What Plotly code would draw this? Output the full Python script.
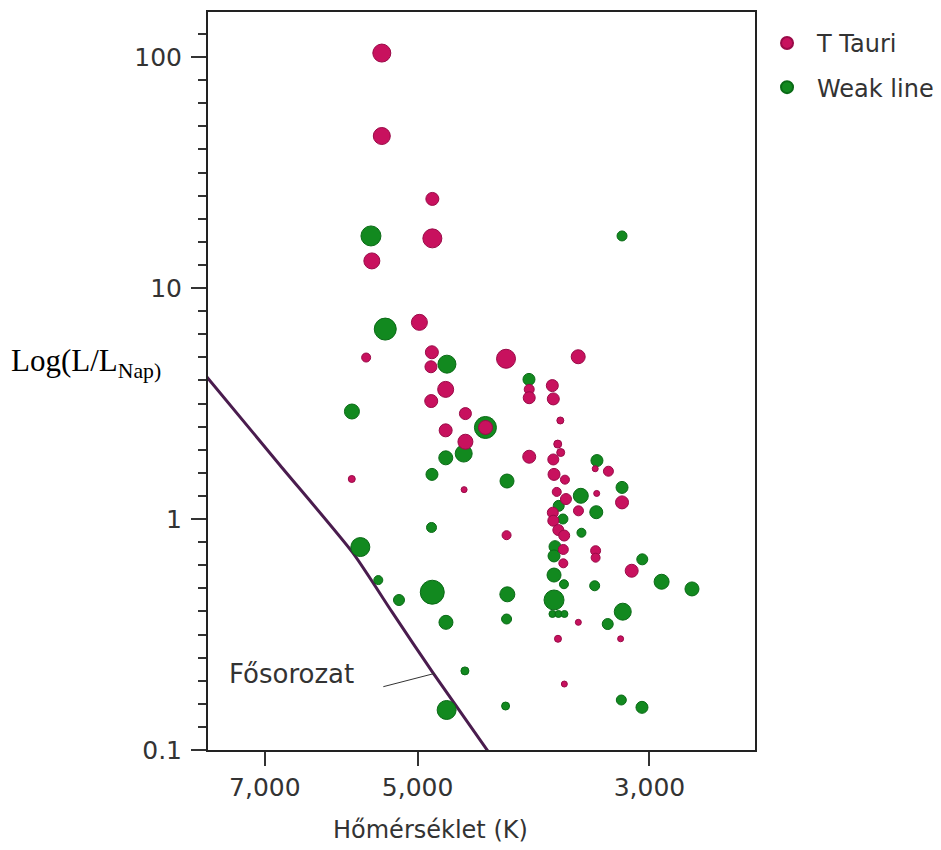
import plotly.graph_objects as go

# T Tauri stars: effective temperature (K), luminosity (L/Lsun), marker size
tt_temp = [5410, 5410, 4840, 4840, 5530, 4980, 5600, 4845, 4855, 4115,
           3510, 3910, 3910, 3716, 3708, 4700, 4852, 4500, 3651, 4305,
           4700, 4500, 3672, 3648, 3910, 3708, 3381, 3284, 3702, 3614,
           4513, 3680, 3370, 3606, 3187, 3508, 3712, 3708, 3667, 3620,
           4110, 3627, 3627, 3378, 3378, 3120, 3509, 3670, 3197, 3619,
           5780]
tt_lum = [104, 45.5, 24.3, 16.4, 13.1, 7.10, 5.0, 5.27, 4.56, 4.94,
          5.04, 3.64, 3.35, 3.78, 3.31, 3.64, 3.24, 2.86, 2.67, 2.49,
          2.42, 2.16, 2.11, 1.94, 1.86, 1.81, 1.65, 1.61, 1.56, 1.48,
          1.34, 1.31, 1.29, 1.22, 1.18, 1.085, 1.065, 0.983, 0.896, 0.848,
          0.851, 0.738, 0.643, 0.729, 0.680, 0.597, 0.357, 0.303, 0.303, 0.193,
          1.49]
tt_size = [18, 17, 13, 19, 16, 16, 9, 13, 12, 19,
           14, 10, 12, 12, 12, 16, 13, 12, 7, 14,
           13, 15, 8, 8, 13, 11, 6, 10, 12, 9,
           6, 9, 6, 11, 13, 10, 11, 11, 11, 11,
           9, 10, 9, 10, 9, 13, 6, 7, 6, 6,
           7]

# Weak-line T Tauri stars
wl_temp = [5541, 3187, 5369, 4687, 3912, 5778, 4306, 4517, 4699, 3368,
           4844, 4106, 3187, 3490, 3664, 3373, 3630, 4849, 3485, 3694,
           3702, 5672, 3048, 3702, 2921, 5452, 3622, 3385, 2732, 4841,
           4103, 5209, 3702, 3182, 3715, 3666, 3618, 4110, 4697, 3289,
           4505, 3192, 4119, 3050, 4690]
wl_lum = [16.8, 16.8, 6.64, 4.68, 4.02, 2.92, 2.49, 1.92, 1.84, 1.79,
          1.56, 1.46, 1.37, 1.26, 1.14, 1.07, 1.00, 0.919, 0.872, 0.759,
          0.692, 0.756, 0.669, 0.572, 0.535, 0.544, 0.522, 0.514, 0.498, 0.482,
          0.472, 0.446, 0.446, 0.397, 0.388, 0.388, 0.388, 0.369, 0.357, 0.351,
          0.220, 0.1646, 0.155, 0.153, 0.149]
wl_size = [20, 10, 22, 18, 12, 15, 22, 17, 14, 12,
           12, 14, 12, 15, 11, 13, 10, 10, 9, 12,
           12, 19, 11, 14, 15, 9, 9, 10, 14, 24,
           15, 11, 20, 17, 7, 7, 7, 10, 14, 11,
           8, 10, 8, 12, 19]

# Main sequence curve
ms_temp = [8000, 6770, 5766, 5290, 4831, 4244]
ms_lum = [4.25, 1.71, 0.713, 0.396, 0.215, 0.0933]

x_ticks = [7000, 5000, 3000]
x_ticktext = ["7,000", "5,000", "3,000"]
y_ticks = [0.1, 1, 10, 100]
y_ticktext = ["0.1", "1", "10", "100"]

SANS = "DejaVu Sans"
TXT = "#333333"

fig = go.Figure()

fig.add_trace(go.Scatter(
    x=ms_temp, y=ms_lum, mode="lines",
    line=dict(color="#4a1c4e", width=3, shape="spline", smoothing=0.6),
    showlegend=False, hoverinfo="skip"))

fig.add_trace(go.Scatter(
    x=wl_temp, y=wl_lum, mode="markers", name="Weak line",
    legendrank=2, legendgroup="b",
    marker=dict(size=wl_size, color="#12891f", opacity=1,
                line=dict(color="#0a6a16", width=1))))

fig.add_trace(go.Scatter(
    x=tt_temp, y=tt_lum, mode="markers", name="T Tauri",
    legendrank=1, legendgroup="a",
    marker=dict(size=tt_size, color="#c8115e", opacity=1,
                line=dict(color="#9a0a48", width=1))))

fig.update_layout(
    width=933, height=842, autosize=False,
    margin=dict(l=200, r=186, t=4, b=100, autoexpand=False),
    paper_bgcolor="white", plot_bgcolor="white",
    font=dict(family=SANS, color=TXT),
    legend=dict(x=1.0037, y=0.988, xanchor="left", yanchor="top",
                font=dict(size=24, family=SANS, color=TXT),
                itemsizing="constant", tracegroupgap=10, itemwidth=50,
                bgcolor="rgba(0,0,0,0)"),
    xaxis=dict(type="log", range=[3.89947, 3.37618],
               tickmode="array", tickvals=x_ticks, ticktext=x_ticktext,
               ticks="outside", ticklen=14, tickwidth=2, tickcolor="#333",
               tickfont=dict(size=25, family=SANS, color=TXT),
               showline=True, linecolor="#222", linewidth=2, mirror=True,
               showgrid=False, zeroline=False),
    yaxis=dict(type="log", range=[-1, 2.1948],
               tickmode="array", tickvals=y_ticks, ticktext=y_ticktext,
               ticks="outside", ticklen=15, tickwidth=2, tickcolor="#333",
               tickfont=dict(size=25, family=SANS, color=TXT),
               ticklabelstandoff=4,
               minor=dict(tickmode="linear", tick0=0, dtick=0.1,
                          ticks="outside", ticklen=8, tickwidth=2,
                          tickcolor="#333", showgrid=False),
               showline=True, linecolor="#222", linewidth=2, mirror=True,
               showgrid=False, zeroline=False),
)

fig.add_annotation(text="Log(L/L<sub>Nap)</sub>", xref="paper", yref="paper",
                   x=-0.3637, y=0.5244, xanchor="left", yanchor="middle",
                   showarrow=False,
                   font=dict(family="Liberation Serif", size=31, color="black"))
fig.add_annotation(text="Hőmérséklet (K)", xref="paper", yref="paper",
                   x=0.406, y=-0.1084, xanchor="center", yanchor="middle",
                   showarrow=False, font=dict(family=SANS, size=24, color=TXT))
fig.add_annotation(text="Fősorozat", xref="paper", yref="paper",
                   x=0.0347, y=0.103, xanchor="left", yanchor="middle",
                   showarrow=False, font=dict(family=SANS, size=26, color=TXT))
fig.add_shape(type="line", xref="paper", yref="paper",
              x0=0.3205, y0=0.0858, x1=0.415, y1=0.1039,
              line=dict(color="#333", width=1))

fig.write_html("out.html")
